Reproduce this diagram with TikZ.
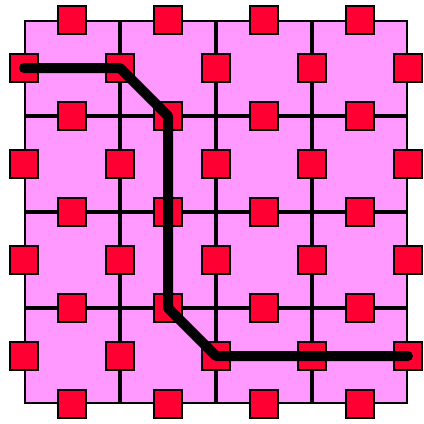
\documentclass[tikz,border=0pt]{standalone}
\begin{document}
\begin{tikzpicture}[x=1pt,y=-1pt,
  cell/.style={draw=black,fill=cellpink,line width=2.5pt,minimum size=94pt,inner sep=0pt,outer sep=0pt},
  redsq/.style={draw=black,fill=sqred,line width=2.5pt,minimum size=28pt,inner sep=0pt,outer sep=0pt},
  route/.style={line width=10pt,line cap=round,line join=bevel}]
\definecolor{cellpink}{HTML}{FF99FF}
\definecolor{sqred}{HTML}{FF0033}
\useasboundingbox (0,0) rectangle (424,424);
\foreach \i in {0,...,3}{
  \foreach \j in {0,...,3}{
    \node[cell] (c-\i-\j) at ({72+96*\j},{68+96*\i}) {};
  }
}
\foreach \i in {0,...,4}{
  \foreach \j in {0,...,3}{
    \node[redsq] (h-\i-\j) at ({72+96*\j},{20+96*\i}) {};
  }
}
\foreach \i in {0,...,3}{
  \foreach \j in {0,...,4}{
    \node[redsq] (v-\i-\j) at ({24+96*\j},{68+96*\i}) {};
  }
}
\draw[route] (v-0-0.center) -- (v-0-1.center) -- (h-1-1.center) -- (h-3-1.center) -- (v-3-2.center) -- (v-3-4.center);
\end{tikzpicture}
\end{document}
